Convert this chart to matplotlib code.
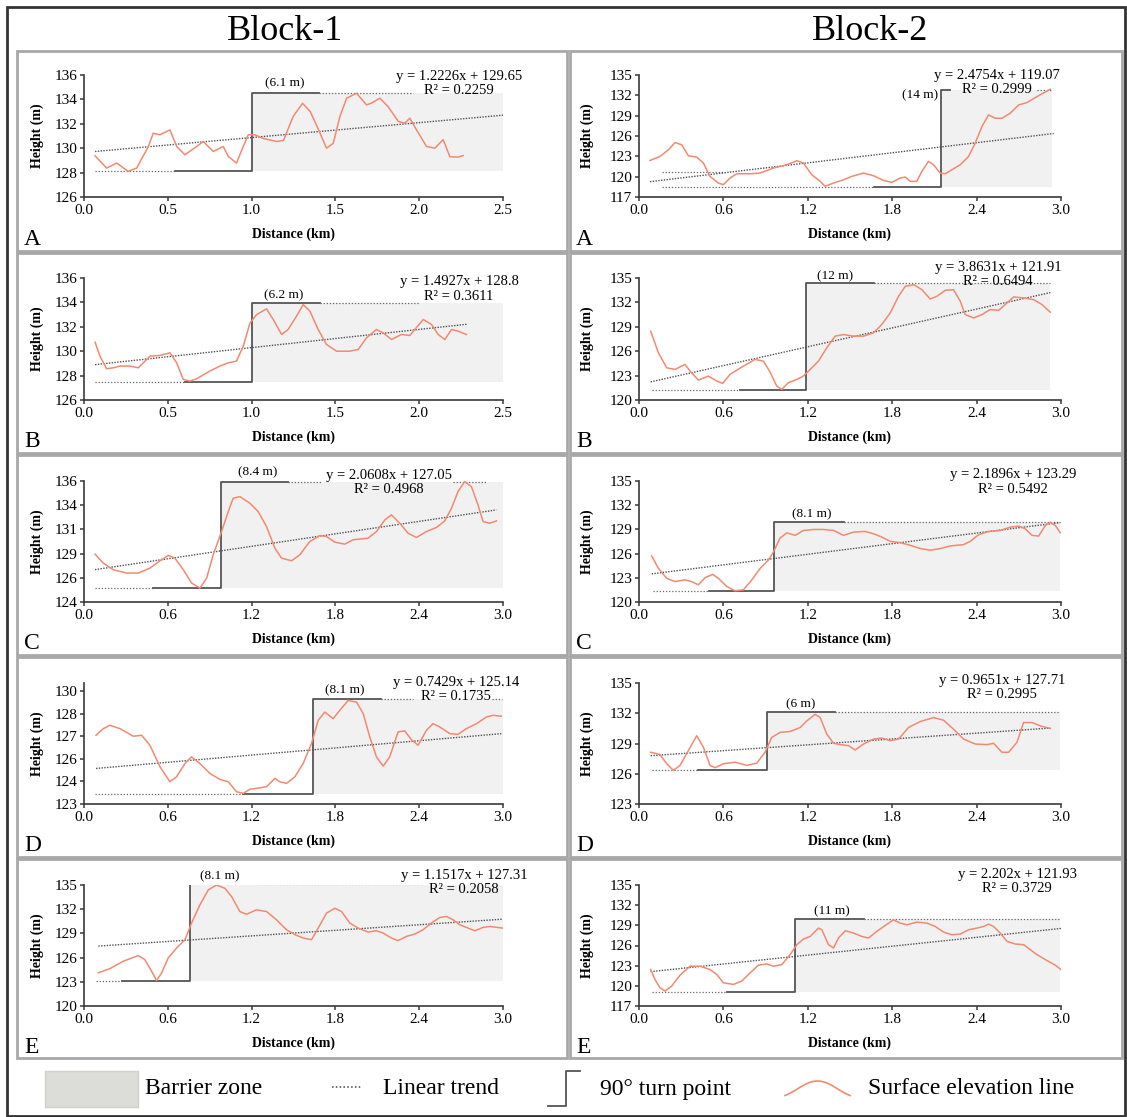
import numpy as np
import matplotlib
matplotlib.use("Agg")
import matplotlib.pyplot as plt
from matplotlib.patches import Rectangle

plt.rcParams['font.family'] = ['Liberation Serif', 'DejaVu Serif']

# ---------------- Block-1 profiles ----------------
b1a_dist = [0.066, 0.135, 0.195, 0.264, 0.314, 0.384, 0.413, 0.453, 0.513, 0.553,
            0.602, 0.672, 0.712, 0.771, 0.831, 0.861, 0.910, 0.950, 0.980, 1.02,
            1.07, 1.149, 1.19, 1.248, 1.304, 1.35, 1.40, 1.447, 1.487, 1.527,
            1.567, 1.626, 1.686, 1.716, 1.765, 1.815, 1.875, 1.914, 1.944, 1.984,
            2.044, 2.093, 2.143, 2.183, 2.232, 2.262]
b1a_height = [129.38, 128.37, 128.78, 128.1, 128.37, 130.14, 131.23, 131.1, 131.5, 130.14,
              129.46, 130.14, 130.55, 129.73, 130.14, 129.32, 128.78, 130.14, 131.1, 131.1,
              130.8, 130.55, 130.63, 132.6, 133.68, 133.0, 131.5, 130.0, 130.4, 132.6,
              134.1, 134.5, 133.55, 133.7, 134.1, 133.4, 132.2, 132.05, 132.46, 131.5,
              130.14, 130.0, 130.7, 129.3, 129.27, 129.4]

b1b_dist = [0.066, 0.095, 0.135, 0.175, 0.215, 0.274, 0.324, 0.394, 0.453, 0.513,
            0.553, 0.592, 0.632, 0.672, 0.751, 0.811, 0.861, 0.91, 0.95, 0.99,
            1.03, 1.089, 1.129, 1.179, 1.218, 1.268, 1.308, 1.348, 1.397, 1.447,
            1.507, 1.586, 1.636, 1.686, 1.745, 1.785, 1.835, 1.894, 1.944, 1.974,
            2.024, 2.073, 2.113, 2.153, 2.193, 2.232, 2.282]
b1b_height = [130.74, 129.6, 128.56, 128.64, 128.78, 128.78, 128.64, 129.6, 129.65, 129.87,
              129.05, 127.69, 127.55, 127.74, 128.37, 128.78, 129.05, 129.19, 130.41, 132.3,
              133.0, 133.47, 132.6, 131.37, 131.78, 132.87, 133.82, 133.28, 131.78, 130.55,
              130.0, 130.0, 130.14, 131.1, 131.78, 131.5, 130.96, 131.37, 131.29, 131.78,
              132.6, 132.2, 131.37, 130.96, 131.78, 131.64, 131.37]

b1c_dist = [0.079, 0.138, 0.21, 0.305, 0.389, 0.472, 0.544, 0.603, 0.651, 0.711,
            0.770, 0.830, 0.878, 0.925, 0.985, 1.033, 1.068, 1.116, 1.188, 1.247,
            1.307, 1.367, 1.414, 1.486, 1.545, 1.617, 1.689, 1.736, 1.796, 1.867,
            1.927, 1.987, 2.034, 2.094, 2.154, 2.201, 2.261, 2.320, 2.38, 2.452,
            2.523, 2.583, 2.631, 2.678, 2.726, 2.774, 2.821, 2.857, 2.905, 2.953]
b1c_height = [128.75, 127.86, 127.2, 126.87, 126.87, 127.36, 128.09, 128.62, 128.35, 127.2,
              125.88, 125.38, 126.37, 128.68, 130.99, 132.97, 134.29, 134.45, 133.79, 132.97,
              131.48, 129.34, 128.35, 128.09, 128.68, 130.0, 130.59, 130.5, 129.93, 129.74,
              130.17, 130.26, 130.33, 130.99, 132.14, 132.64, 131.81, 130.82, 130.4, 130.99,
              131.39, 132.04, 133.3, 134.95, 135.94, 135.44, 133.63, 131.98, 131.81, 132.04]

b1d_dist = [0.086, 0.138, 0.186, 0.258, 0.353, 0.413, 0.472, 0.544, 0.615, 0.663,
            0.723, 0.770, 0.830, 0.902, 0.973, 1.033, 1.092, 1.14, 1.188, 1.235,
            1.307, 1.367, 1.402, 1.45, 1.51, 1.569, 1.629, 1.677, 1.724, 1.784,
            1.832, 1.891, 1.951, 1.999, 2.046, 2.094, 2.142, 2.189, 2.249, 2.297,
            2.344, 2.392, 2.452, 2.499, 2.547, 2.619, 2.678, 2.738, 2.81, 2.881,
            2.929, 2.988]
b1d_height = [127.26, 127.67, 127.88, 127.67, 127.2, 127.26, 126.64, 125.31, 124.38, 124.69,
              125.51, 125.92, 125.51, 124.89, 124.52, 124.38, 123.76, 123.66, 123.91, 123.97,
              124.07, 124.59, 124.38, 124.28, 124.69, 125.51, 126.75, 128.19, 128.70, 128.29,
              128.81, 129.42, 129.32, 128.6, 127.16, 125.92, 125.35, 125.92, 127.47, 127.53,
              126.99, 126.64, 127.57, 127.98, 127.78, 127.36, 127.32, 127.67, 127.98, 128.39,
              128.5, 128.44]

b1e_dist = [0.103, 0.186, 0.281, 0.389, 0.436, 0.484, 0.520, 0.556, 0.603, 0.663,
            0.723, 0.77, 0.83, 0.89, 0.949, 1.009, 1.057, 1.116, 1.164, 1.235,
            1.307, 1.378, 1.45, 1.51, 1.569, 1.629, 1.677, 1.736, 1.796, 1.844,
            1.903, 1.963, 2.034, 2.094, 2.142, 2.201, 2.249, 2.309, 2.368, 2.428,
            2.487, 2.547, 2.595, 2.643, 2.69, 2.75, 2.798, 2.857, 2.905, 2.996]
b1e_height = [124.11, 124.64, 125.55, 126.25, 125.75, 124.31, 123.16, 124.11, 125.96, 127.19,
              128.22, 130.28, 132.54, 134.39, 135.0, 134.59, 133.56, 131.71, 131.38, 131.92,
              131.71, 130.69, 129.45, 128.84, 128.43, 128.22, 129.66, 131.51, 132.12, 131.71,
              130.28, 129.66, 129.17, 129.33, 129.04, 128.43, 128.1, 128.63, 128.92, 129.45,
              130.28, 130.97, 131.1, 130.69, 130.07, 129.66, 129.33, 129.74, 129.86, 129.66]

# ---------------- Block-2 profiles ----------------
b2a_dist = [0.078, 0.149, 0.209, 0.256, 0.304, 0.351, 0.41, 0.458, 0.505, 0.564,
            0.6, 0.647, 0.695, 0.79, 0.861, 0.956, 1.051, 1.122, 1.169, 1.228,
            1.288, 1.323, 1.383, 1.442, 1.513, 1.596, 1.667, 1.738, 1.798, 1.857,
            1.893, 1.928, 1.975, 2.011, 2.058, 2.094, 2.141, 2.177, 2.224, 2.284,
            2.343, 2.39, 2.438, 2.485, 2.533, 2.58, 2.639, 2.699, 2.758, 2.829,
            2.924]
b2a_height = [122.39, 122.98, 123.96, 125.04, 124.7, 123.08, 122.89, 122.0, 120.04, 119.06,
              118.81, 119.8, 120.43, 120.43, 120.53, 121.27, 121.76, 122.35, 122.0, 120.29,
              119.31, 118.57, 119.06, 119.45, 120.04, 120.53, 120.14, 119.45, 119.16, 119.8,
              119.94, 119.31, 119.31, 120.78, 122.25, 121.76, 120.53, 120.43, 121.02, 121.76,
              122.98, 124.94, 127.4, 129.11, 128.62, 128.62, 129.36, 130.58, 130.93, 131.81,
              132.9]

b2b_dist = [0.083, 0.138, 0.197, 0.256, 0.327, 0.363, 0.422, 0.493, 0.553, 0.595,
            0.647, 0.742, 0.825, 0.885, 0.932, 0.979, 1.015, 1.062, 1.122, 1.169,
            1.217, 1.276, 1.335, 1.394, 1.454, 1.525, 1.596, 1.667, 1.726, 1.786,
            1.845, 1.893, 1.952, 2.011, 2.07, 2.118, 2.177, 2.236, 2.284, 2.319,
            2.379, 2.438, 2.497, 2.557, 2.616, 2.663, 2.734, 2.806, 2.865, 2.924]
b2b_height = [128.46, 125.8, 123.96, 123.76, 124.37, 123.56, 122.45, 122.94, 122.33, 122.04,
              123.15, 124.17, 124.99, 124.78, 123.43, 121.72, 121.31, 122.13, 122.53, 122.94,
              123.76, 124.78, 126.42, 127.85, 128.05, 127.85, 127.85, 128.26, 129.28, 130.71,
              132.75, 133.98, 134.18, 133.57, 132.42, 132.75, 133.49, 133.57, 132.14, 130.5,
              130.09, 130.5, 131.12, 131.03, 131.93, 132.67, 132.55, 132.34, 131.73, 130.79]

b2c_dist = [0.09, 0.138, 0.197, 0.256, 0.327, 0.375, 0.422, 0.47, 0.524, 0.564,
            0.624, 0.683, 0.742, 0.802, 0.861, 0.92, 0.956, 1.003, 1.051, 1.11,
            1.169, 1.24, 1.311, 1.383, 1.454, 1.525, 1.608, 1.667, 1.726, 1.786,
            1.857, 1.928, 2.0, 2.07, 2.141, 2.213, 2.307, 2.355, 2.414, 2.485,
            2.568, 2.639, 2.699, 2.746, 2.794, 2.841, 2.888, 2.924, 2.96, 2.995]
b2c_height = [125.72, 124.17, 122.94, 122.53, 122.74, 122.53, 122.13, 123.02, 123.43, 122.94,
              121.92, 121.39, 121.51, 122.74, 124.17, 125.19, 126.21, 127.93, 128.58, 128.26,
              128.87, 128.99, 128.99, 128.87, 128.26, 128.66, 128.75, 128.46, 128.05, 127.52,
              127.36, 127.03, 126.62, 126.42, 126.62, 126.95, 127.11, 127.52, 128.34, 128.75,
              128.87, 129.28, 129.4, 129.07, 128.26, 128.17, 129.48, 129.89, 129.48, 128.58]

b2d_dist = [0.083, 0.149, 0.197, 0.244, 0.292, 0.351, 0.41, 0.458, 0.505, 0.541,
            0.6, 0.683, 0.766, 0.837, 0.896, 0.944, 1.003, 1.074, 1.146, 1.193,
            1.252, 1.288, 1.335, 1.383, 1.43, 1.489, 1.537, 1.596, 1.667, 1.726,
            1.786, 1.845, 1.916, 1.999, 2.094, 2.165, 2.236, 2.307, 2.39, 2.474,
            2.521, 2.58, 2.628, 2.687, 2.734, 2.794, 2.853, 2.924]
b2d_height = [128.13, 127.91, 126.99, 126.34, 126.83, 128.3, 129.77, 128.62, 126.83, 126.6,
              126.99, 127.15, 126.83, 127.05, 128.13, 129.61, 130.1, 130.19, 130.59, 131.24,
              131.89, 131.57, 129.93, 129.02, 128.89, 128.79, 128.36, 128.95, 129.44, 129.54,
              129.28, 129.44, 130.59, 131.18, 131.57, 131.31, 130.42, 129.44, 128.95, 128.89,
              129.02, 128.13, 128.13, 129.12, 131.08, 131.08, 130.75, 130.49]

b2e_dist = [0.083, 0.114, 0.149, 0.185, 0.232, 0.292, 0.363, 0.434, 0.505, 0.553,
            0.6, 0.671, 0.73, 0.79, 0.849, 0.908, 0.956, 1.015, 1.074, 1.122,
            1.169, 1.217, 1.276, 1.3, 1.347, 1.383, 1.418, 1.466, 1.525, 1.584,
            1.632, 1.691, 1.75, 1.809, 1.857, 1.904, 1.975, 2.047, 2.106, 2.165,
            2.224, 2.284, 2.343, 2.402, 2.45, 2.485, 2.521, 2.568, 2.616, 2.675,
            2.734, 2.782, 2.829, 2.9, 2.96, 3.0]
b2e_height = [122.42, 120.94, 119.71, 119.22, 119.96, 121.59, 122.92, 122.92, 122.42, 121.68,
              120.45, 120.21, 120.7, 121.93, 123.07, 123.26, 122.92, 123.16, 124.64, 126.12,
              126.96, 127.35, 128.59, 128.34, 126.12, 125.63, 127.11, 128.19, 127.85, 127.35,
              127.11, 128.1, 128.98, 129.82, 129.33, 129.08, 129.48, 129.33, 128.83, 128.0,
              127.6, 127.7, 128.34, 128.59, 128.83, 129.18, 128.83, 127.85, 126.62, 126.22,
              126.12, 125.38, 124.64, 123.76, 123.07, 122.42]

# trend line parameters (slope, intercept, R2) in panel order A..E
b1_slope = [1.2226, 1.4927, 2.0608, 0.7429, 1.1517]
b1_intercept = [129.65, 128.8, 127.05, 125.14, 127.31]
b1_r2 = [0.2259, 0.3611, 0.4968, 0.1735, 0.2058]
b2_slope = [2.4754, 3.8631, 2.1896, 0.9651, 2.202]
b2_intercept = [119.07, 121.91, 123.29, 127.71, 121.93]
b2_r2 = [0.2999, 0.6494, 0.5492, 0.2995, 0.3729]

# barrier zone: start km, end km, base height, top height
b1_zone = [(1.0, 2.5, 128.1, 134.5), (1.0, 2.5, 127.47, 133.96), (0.978, 3.0, 125.38, 135.87),
           (1.641, 3.0, 123.6, 129.49), (0.758, 3.0, 123.16, 135.08)]
b2_zone = [(2.146, 2.937, 118.47, 132.79), (1.188, 2.924, 121.23, 134.39), (0.96, 2.995, 121.31, 129.97),
           (0.908, 2.995, 126.34, 132.16), (1.11, 2.995, 119.12, 129.97)]
# 90 degree turn line: start of lower leg, end of upper leg
b1_step = [(0.54, 1.4), (0.602, 1.407), (0.491, 1.462), (1.14, 2.13), (0.27, 1.247)]
b2_step = [(1.672, 2.213), (0.719, 1.672), (0.5, 1.454), (0.422, 1.395), (0.624, 1.596)]
# dotted guide lines: start of lower guide, segments of upper guide
b1_low_guide = [0.066, 0.066, 0.079, 0.079, 0.086]
b2_low_guide = [0.161, 0.09, 0.102, 0.09, 0.09]
b1_top_guide = [[(1.4, 1.964)], [(1.407, 2.003)], [(1.462, 1.70), (2.643, 2.881)],
                [(2.13, 2.357), (2.918, 2.99)], [(1.247, 2.428)]]
b2_top_guide = [[(2.83, 2.937)], [(1.672, 2.924)], [(1.454, 2.995)], [(1.395, 2.995)], [(1.596, 2.995)]]
b1_jump = ['(6.1 m)', '(6.2 m)', '(8.4 m)', '(8.1 m)', '(8.1 m)']
b2_jump = ['(14 m)', '(12 m)', '(8.1 m)', '(6 m)', '(11 m)']
b1_jump_at = [(1.2, 135.32), (1.19, 134.56), (1.247, 136.86), (1.867, 130.04), (0.973, 136.03)]
b2_jump_at = [(1.999, 131.96), (1.394, 135.2), (1.229, 130.91), (1.146, 132.88), (1.371, 131.15)]

panel_letters = ['A', 'B', 'C', 'D', 'E']

# axis settings
b1_ylim = [(126, 136), (126, 136), (124, 136), (123, 130.5), (120, 135)]
b1_yticks = [np.arange(126, 137, 2), np.arange(126, 137, 2), np.linspace(124, 136, 6),
             np.linspace(123, 130, 6), np.arange(120, 136, 3)]
b1_ylabels = [None, None, ['124', '126', '129', '131', '134', '136'],
              ['123', '124', '126', '127', '128', '130'], None]
b2_ylim = [(117, 135), (120, 135), (120, 135), (123, 135), (117, 135)]
b2_yticks = [np.arange(117, 136, 3), np.arange(120, 136, 3), np.arange(120, 136, 3),
             np.arange(123, 136, 3), np.arange(117, 136, 3)]

# ---------------- layout (pixels) ----------------
W, H = 1127, 1117
col_l = [84, 639]
col_r = [503, 1061]
row_t = [75, 278, 481, 683, 885]
row_b = [197, 400, 602, 804, 1006]
frame_x = [(17, 567), (570, 1122)]
frame_y = [(51, 251), (253, 453), (455, 655), (657, 857), (859, 1058)]
eq_pos = [[(459, 83.5), (459, 289), (389, 482.5), (456, 689.5), (464, 882.5)],
          [(997, 82.5), (998, 274.5), (1013, 482), (1002, 687.5), (1017, 881.5)]]

curve_c = '#f28a6f'
line_c = '#555555'
zone_c = '#f1f1f1'

panels = []
b1_data = [(b1a_dist, b1a_height), (b1b_dist, b1b_height), (b1c_dist, b1c_height),
           (b1d_dist, b1d_height), (b1e_dist, b1e_height)]
b2_data = [(b2a_dist, b2a_height), (b2b_dist, b2b_height), (b2c_dist, b2c_height),
           (b2d_dist, b2d_height), (b2e_dist, b2e_height)]
for i in range(5):
    panels.append(dict(col=0, row=i, dist=b1_data[i][0], height=b1_data[i][1],
                       slope=b1_slope[i], icpt=b1_intercept[i], r2=b1_r2[i],
                       zone=b1_zone[i], step=b1_step[i], low=b1_low_guide[i], top=b1_top_guide[i],
                       jump=b1_jump[i], jump_at=b1_jump_at[i], ylim=b1_ylim[i],
                       yticks=b1_yticks[i], ylabels=b1_ylabels[i],
                       xmax=2.5 if i < 2 else 3.0,
                       trend_end=2.5 if i == 0 else b1_data[i][0][-1]))
for i in range(5):
    panels.append(dict(col=1, row=i, dist=b2_data[i][0], height=b2_data[i][1],
                       slope=b2_slope[i], icpt=b2_intercept[i], r2=b2_r2[i],
                       zone=b2_zone[i], step=b2_step[i], low=b2_low_guide[i], top=b2_top_guide[i],
                       jump=b2_jump[i], jump_at=b2_jump_at[i], ylim=b2_ylim[i],
                       yticks=b2_yticks[i], ylabels=None, xmax=3.0,
                       trend_end=b2_data[i][0][-1] + (0.024 if i == 0 else 0)))

fig = plt.figure(figsize=(W / 100, H / 100), dpi=100)

# overlay in pixel coordinates for frames, titles and legend (behind panels)
ov = fig.add_axes([0, 0, 1, 1], zorder=-1)
ov.set_xlim(0, W)
ov.set_ylim(H, 0)
ov.axis('off')
# overlay on top of panels for the trend equations
ot = fig.add_axes([0, 0, 1, 1], zorder=10)
ot.set_xlim(0, W)
ot.set_ylim(H, 0)
ot.axis('off')
ot.patch.set_alpha(0)

ov.add_patch(Rectangle((7, 7), 1118, 1109, fill=False, ec='#333333', lw=2))
for fx0, fx1 in frame_x:
    for fy0, fy1 in frame_y:
        ov.add_patch(Rectangle((fx0, fy0), fx1 - fx0, fy1 - fy0, fill=False, ec='#a8a8a8', lw=2))
ov.text(285, 32, 'Block-1', ha='center', va='center', fontsize=26)
ov.text(870, 32, 'Block-2', ha='center', va='center', fontsize=26)

for p in panels:
    c, r = p['col'], p['row']
    l, rr, t, b = col_l[c], col_r[c], row_t[r], row_b[r]
    ax = fig.add_axes([l / W, 1 - b / H, (rr - l) / W, (b - t) / H])
    ax.set_facecolor('none')
    x0, x1, lo, hi = p['zone']
    ax.fill_between([x0, x1], lo, hi, color=zone_c, lw=0, zorder=0)
    d = np.array(p['dist'])
    ax.plot(d, p['height'], color=curve_c, lw=1.1, zorder=4, solid_joinstyle='round')
    tx = np.array([d[0], p['trend_end']])
    ax.plot(tx, p['slope'] * tx + p['icpt'], color='#505050', lw=1.0, ls=(0, (1, 1)), zorder=3)
    s0, s1 = p['step']
    ax.plot([s0, x0, x0, s1], [lo, lo, hi, hi], color=line_c, lw=1.3, zorder=2)
    ax.plot([p['low'], s0], [lo, lo], color='#666666', lw=0.9, ls=(0, (1, 1.5)), zorder=2)
    for g0, g1 in p['top']:
        ax.plot([g0, g1], [hi, hi], color='#666666', lw=0.9, ls=(0, (1, 1.5)), zorder=2)
    if c == 1 and r == 0:
        ax.plot([p['low'], 0.612], [120.63, 120.63], color='#666666', lw=0.9,
                ls=(0, (1, 1.5)), zorder=2)
    ax.text(p['jump_at'][0], p['jump_at'][1], p['jump'], ha='center', va='center',
            fontsize=9.5, clip_on=False)

    ax.set_xlim(0, p['xmax'])
    ax.set_ylim(*p['ylim'])
    step = 0.5 if p['xmax'] == 2.5 else 0.6
    xt = np.arange(0, p['xmax'] + 1e-6, step)
    ax.set_xticks(xt)
    ax.set_xticklabels([f'{v:.1f}' for v in xt])
    ax.set_yticks(p['yticks'])
    if p['ylabels'] is not None:
        ax.set_yticklabels(p['ylabels'])
    else:
        ax.set_yticklabels([f'{v:.0f}' for v in p['yticks']])
    for s in ['top', 'right']:
        ax.spines[s].set_visible(False)
    for s in ['left', 'bottom']:
        ax.spines[s].set_color('#3a3a3a')
        ax.spines[s].set_linewidth(1.2)
    ax.tick_params(direction='out', length=3, width=1.1, color='#3a3a3a',
                   labelsize=11, pad=2)
    ax.set_ylabel('Height (m)', fontsize=10, fontweight='bold')
    ax.yaxis.set_label_coords(-0.095 if c == 0 else -0.107, 0.5)
    ax.set_xlabel('Distance (km)', fontsize=10, fontweight='bold')
    ax.xaxis.set_label_coords(0.5, -0.25)

    ex, ey = eq_pos[c][r]
    ot.text(ex, ey, f"y = {p['slope']}x + {p['icpt']}\nR\u00b2 = {p['r2']}",
            ha='center', va='center', multialignment='center', fontsize=10.5,
            linespacing=1.15)
    ov.text(24 if c == 0 else 576, frame_y[r][0] + 194, panel_letters[r],
            fontsize=17, va='baseline')

# legend row
ov.add_patch(Rectangle((45, 1071), 93, 36, fc='#dcdcd8', ec='#cfcfcb', lw=1))
ov.text(145, 1089, 'Barrier zone', va='center', fontsize=17)
ov.plot([332, 362], [1087, 1087], color='#444444', lw=1.1, ls=(0, (1, 1.5)))
ov.text(383, 1089, 'Linear trend', va='center', fontsize=17)
ov.plot([548, 566, 566, 580], [1106, 1106, 1071, 1071], color=line_c, lw=1.3)
ov.text(600, 1089, '90\u00b0 turn point', va='center', fontsize=17)
wx = np.linspace(785, 850, 30)
ov.plot(wx, 1089 - 8 * np.sin((wx - 785) / 65 * 1.6 * np.pi - 0.3 * np.pi), color=curve_c, lw=1.2)
ov.text(868, 1089, 'Surface elevation line', va='center', fontsize=17)

fig.savefig('out.png', dpi=100)
